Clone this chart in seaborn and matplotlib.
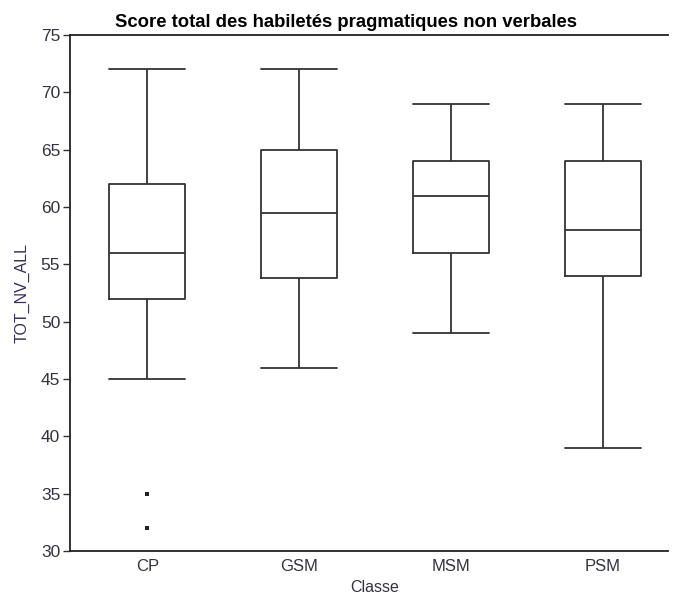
import pandas as pd
import matplotlib
matplotlib.use("Agg")
import matplotlib.pyplot as plt
import seaborn as sns

# Summary values (per class)
classes = ["CP", "GSM", "MSM", "PSM"]
whisker_low = [45, 46, 49, 39]
q1 = [52, 53.8, 56, 54]
median = [56, 59.5, 61, 58]
q3 = [62, 65, 64, 64]
whisker_high = [72, 72, 69, 69]

# Outliers
outlier_class = ["CP", "CP"]
outlier_value = [35, 32]

# Five-number summary as rows; with whis=(0, 100) the box reproduces them
rows = []
for i, c in enumerate(classes):
    for v in [whisker_low[i], q1[i], median[i], q3[i], whisker_high[i]]:
        rows.append({"Classe": c, "TOT_NV_ALL": v})
df = pd.DataFrame(rows)
out = pd.DataFrame({"Classe": outlier_class, "TOT_NV_ALL": outlier_value})

sns.set_style("white")
plt.rcParams["font.family"] = ["Liberation Sans", "DejaVu Sans"]

fig = plt.figure(figsize=(6.73, 5.95), dpi=100)
ax = fig.add_axes([0.104, 0.074, 0.889, 0.867])

line_kw = dict(color="#333333", linewidth=1.3)
sns.boxplot(data=df, x="Classe", y="TOT_NV_ALL", order=classes, whis=(0, 100),
            width=0.5, fill=False, showfliers=False, ax=ax,
            boxprops=line_kw, medianprops=line_kw, whiskerprops=line_kw,
            capprops=dict(color="#333333", linewidth=1.3), capwidths=0.5)
sns.stripplot(data=out, x="Classe", y="TOT_NV_ALL", order=classes, jitter=False,
              color="#222222", marker="s", size=2.4, linewidth=0, ax=ax)

ax.set_ylim(30, 75)
ax.set_yticks(range(30, 80, 5))
ax.set_xlim(-0.51, 3.43)

ax.spines["right"].set_visible(False)
for side in ["left", "top", "bottom"]:
    ax.spines[side].set_color("#222222")
    ax.spines[side].set_linewidth(1.3)

ax.tick_params(axis="y", direction="out", length=5, width=1, color="#333333",
               labelsize=12.5, labelcolor="#333340", left=True, pad=2)
ax.tick_params(axis="x", length=0, labelsize=12, labelcolor="#333340", pad=6)

ax.set_xlabel("Classe", fontsize=11.5, color="#333340")
ax.xaxis.set_label_coords(0.51, -0.056)
ax.set_ylabel("TOT_NV_ALL", fontsize=11.5, color="#3a2c5c")
ax.yaxis.set_label_coords(-0.068, 0.5)

fig.text(0.514, 0.962, "Score total des habiletés pragmatiques non verbales",
         ha="center", va="center", fontsize=13.3, fontweight="bold", color="black")

fig.savefig("out.png", dpi=100)
